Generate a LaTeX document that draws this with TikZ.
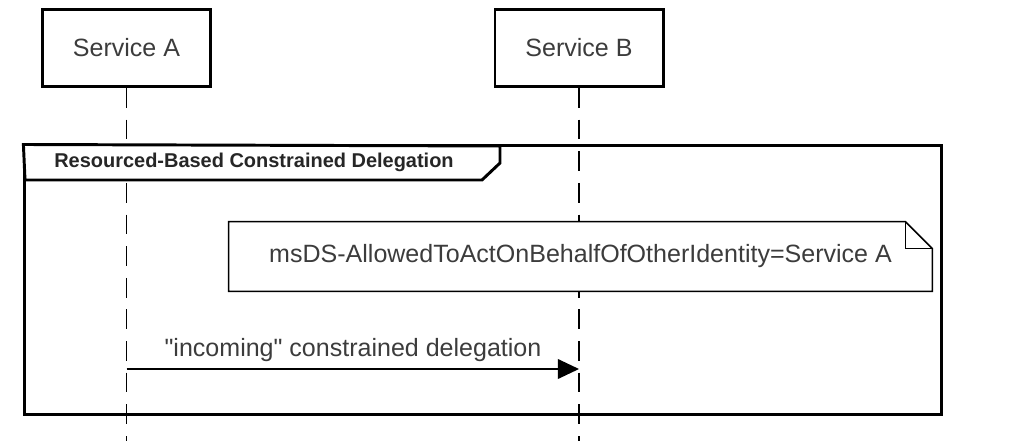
\documentclass[tikz,border=0pt]{standalone}
\usepackage{fontspec}
\setmainfont{Liberation Sans}
\usetikzlibrary{positioning}
\usetikzlibrary{calc}
\usetikzlibrary{arrows.meta}
\definecolor{txtgray}{RGB}{60,60,60}

\begin{document}
\begin{tikzpicture}[
    x=0.025cm, y=-0.025cm,
    service/.style={draw, line width=2.1pt, minimum width=4.2cm, minimum height=1.925cm, inner sep=0pt, text=txtgray, font=\fontsize{17.8}{20}\selectfont},
    lifeline/.style={line width=1pt, dash pattern=on 14pt off 8.5pt},
    frame/.style={draw, line width=2.1pt, minimum width=22.9cm, minimum height=6.7cm, inner sep=0pt},
    tab/.style={draw, line width=2.1pt, fill=white},
    notebox/.style={minimum width=17.575cm, minimum height=1.725cm, inner sep=0pt, text=txtgray, font=\fontsize{17.8}{20}\selectfont},
    msg/.style={text=txtgray, font=\fontsize{17.8}{20}\selectfont},
    >={Triangle[length=15pt, width=14pt]}
]
    \useasboundingbox (0,0) rectangle (1009,441);

    \node[service] (svcA) at (126.5,48) {Service A};
    \node[service] (svcB) at (579,48) {Service B};

    \foreach \s in {A,B} {
        \coordinate (end\s) at (svc\s.south |- 0,441);
        \draw[lifeline] (svc\s.south) -- (end\s);
    }

    \node[frame] (rbcd) at (483,280) {};
    \draw[tab] (rbcd.north west) -- (25,180) -- (482,180) -- (500,163) -- (500,146) -- cycle;
    \node[font=\fontsize{14.2}{16}\selectfont\bfseries, text=black!85] (rbcdlbl) at (254,162) {Resourced-Based Constrained Delegation};

    \node[notebox] (acl) at (580.5,256.5) {};
    \draw[line width=1.1pt, fill=white] (acl.north west) -- ($(acl.north east)+(-27,0)$) -- ($(acl.north east)+(0,27)$) -- (acl.south east) -- (acl.south west) -- cycle;
    \draw[line width=1.1pt] ($(acl.north east)+(-27,0)$) -- ($(acl.north east)+(-27,27)$) -- ($(acl.north east)+(0,27)$);
    \node[notebox] (acltxt) at (acl.center) {msDS-AllowedToActOnBehalfOfOtherIdentity=Service A};

    \coordinate (callA) at (svcA.south |- 0,369);
    \coordinate (callB) at (svcB.south |- 0,369);
    \draw[->, line width=1pt] (callA) -- (callB);
    \node[msg] (calllbl) at (353,350) {\textquotedbl incoming\textquotedbl{} constrained delegation};
\end{tikzpicture}
\end{document}
